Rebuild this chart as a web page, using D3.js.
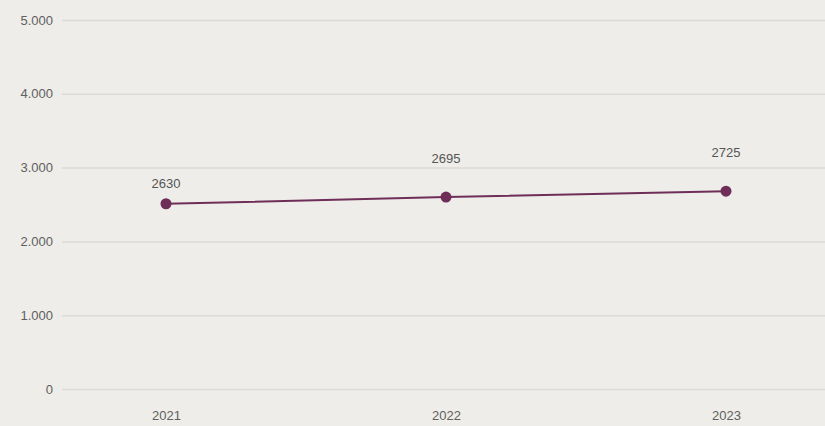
<!DOCTYPE html>
<html>
<head>
<meta charset="utf-8">
<script src="https://cdn.jsdelivr.net/npm/d3@7"></script>
<style>
  html, body { margin: 0; padding: 0; background: #eeede9; }
  svg { display: block; font-family: "Liberation Sans", Arial, sans-serif; }
</style>
</head>
<body>
<svg id="chart" width="825" height="426"></svg>
<script>
const years = ["2021", "2022", "2023"];
const values = [2510, 2600, 2680];
const valueLabels = ["2630", "2695", "2725"];
const yTicks = [0, 1000, 2000, 3000, 4000, 5000];

const W = 825, H = 426;
const svg = d3.select("#chart");
svg.append("rect").attr("width", W).attr("height", H).attr("fill", "#eeede9");

const x = d3.scalePoint().domain(years).range([166, 726]);
const y = d3.scaleLinear().domain([0, 5000]).range([389, 20]);

const fmt = v => d3.format(",")(v).replace(/,/g, ".");

const yAxis = d3.axisLeft(y).tickValues(yTicks).tickSize(-(W - 62)).tickFormat(fmt).tickPadding(9);
const gy = svg.append("g").attr("transform", "translate(62,0)").call(yAxis);
gy.select(".domain").remove();
gy.selectAll(".tick line").attr("stroke", "#dcdad6").attr("stroke-width", 1.5);
gy.selectAll(".tick text").attr("fill", "#606060").attr("font-size", 13);

const xAxis = d3.axisBottom(x).tickSize(0).tickPadding(0);
const gx = svg.append("g").attr("transform", "translate(0,415)").call(xAxis);
gx.select(".domain").remove();
gx.selectAll(".tick text").attr("fill", "#606060").attr("font-size", 13).attr("dy", "0.35em");

const data = years.map((yr, i) => ({ yr, v: values[i], label: valueLabels[i] }));
const color = "#6e2e58";

svg.append("path").datum(data)
  .attr("fill", "none").attr("stroke", color).attr("stroke-width", 2)
  .attr("d", d3.line().x(d => x(d.yr)).y(d => y(d.v)));

svg.selectAll("circle.pt").data(data).join("circle")
  .attr("class", "pt")
  .attr("cx", d => x(d.yr)).attr("cy", d => y(d.v)).attr("r", 5.5)
  .attr("fill", color);

const labelLift = [20, 39, 39];
svg.selectAll("text.lbl").data(data).join("text")
  .attr("class", "lbl")
  .attr("x", d => x(d.yr)).attr("y", (d, i) => y(d.v) - labelLift[i])
  .attr("dy", "0.35em")
  .attr("text-anchor", "middle")
  .attr("fill", "#555").attr("font-size", 13)
  .text(d => d.label);
</script>
</body>
</html>
